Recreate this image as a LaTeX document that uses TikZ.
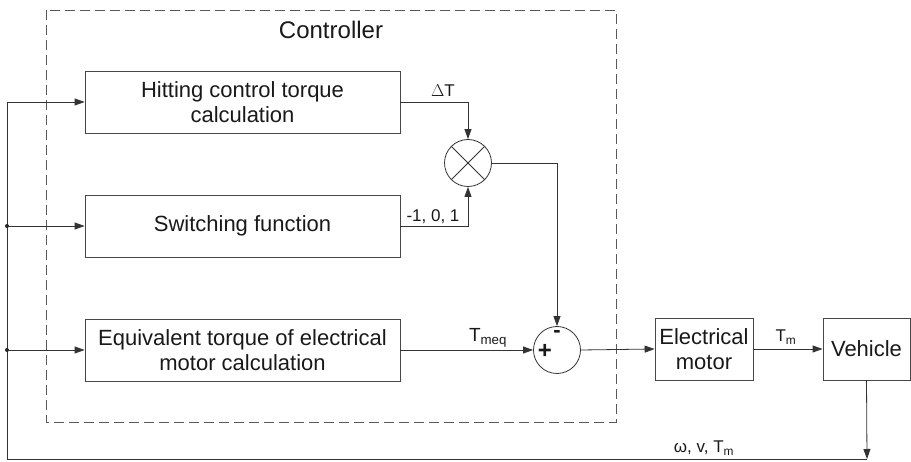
\documentclass[tikz,border=0pt]{standalone}
\usepackage{fontspec}
\setmainfont{Liberation Sans}
\usetikzlibrary{arrows.meta}
\begin{document}
\begin{tikzpicture}[x=1pt,y=-1pt,
  line width=0.8pt,
  every node/.style={text=black!90},
  blk/.style={draw=black!72, rectangle, minimum height=62pt, inner sep=0pt, align=center, font=\fontsize{22}{25}\selectfont},
  junc/.style={draw=black!80, circle, minimum size=47pt, inner sep=0pt},
  wire/.style={draw=black!80},
  arr/.style={wire, -{Triangle[length=10pt,width=7pt]}},
  lbl/.style={anchor=base, inner sep=0pt, font=\fontsize{17}{19}\selectfont},
  dot/.style={fill=black!85}
]
\useasboundingbox (0,0) rectangle (911,462);
% controller frame
\draw[black!65, dash pattern=on 10pt off 5pt] (46,10) rectangle (616,422);
\node[anchor=base, inner sep=0pt, font=\fontsize{24}{28}\selectfont] (ctl) at (331,39) {Controller};
% blocks
\node[blk, minimum width=315pt] (hit) at (242.5,102) {Hitting control torque\\calculation};
\node[blk, minimum width=315pt] (sw) at (242.5,226) {Switching function};
\node[blk, minimum width=315pt] (eq) at (242.5,350) {Equivalent torque of electrical\\motor calculation};
\node[junc] (mul) at (468,163) {};
\draw[wire] (mul.north west) -- (mul.south east) (mul.north east) -- (mul.south west);
\node[junc] (sum) at (557,350) {};
\node[inner sep=0pt, font=\fontsize{24}{24}\selectfont\bfseries] (plus) at (545,351) {+};
\node[inner sep=0pt, font=\fontsize{22}{22}\selectfont\bfseries] (minus) at (557,334) {-};
\node[blk, minimum width=98pt] (em) at (704,349) {Electrical\\motor};
\node[blk, minimum width=87pt] (veh) at (866.5,349) {Vehicle};
% coordinates of the feedback loop
\coordinate (fbR) at (867,459);
\coordinate (fbL) at (7,459);
\coordinate (topL) at (7,102);
\coordinate (d1) at (7,226);
\coordinate (d2) at (7,350);
% connectors
\draw[arr] (hit.east) -| (mul.north);
\draw[arr] (sw.east) -| (mul.south);
\draw[arr] (mul.east) -| (sum.north);
\draw[arr] (eq.east) -- (sum.west);
\draw[arr] (sum.east) -- (em.west);
\draw[arr] (em.east) -- (veh.west);
\draw[arr] (veh.south) -- (fbR);
\draw[arr] (fbR) -- (fbL) -- (topL) -- (hit.west);
\draw[arr] (d1) -- (sw.west);
\draw[arr] (d2) -- (eq.west);
\fill[dot] (d1) circle (2pt);
\fill[dot] (d2) circle (2pt);
% labels
\node[lbl] (ldt) at (443,97) {$\Delta$T};
\node[lbl] (lsw) at (433,222) {-1, 0, 1};
\node[lbl, font=\fontsize{19}{21}\selectfont] (ltmeq) at (488,342) {T\textsubscript{meq}};
\node[lbl] (ltm) at (786,342) {T\textsubscript{m}};
\node[lbl] (lfb) at (704,453) {ω, v, T\textsubscript{m}};
\end{tikzpicture}
\end{document}
